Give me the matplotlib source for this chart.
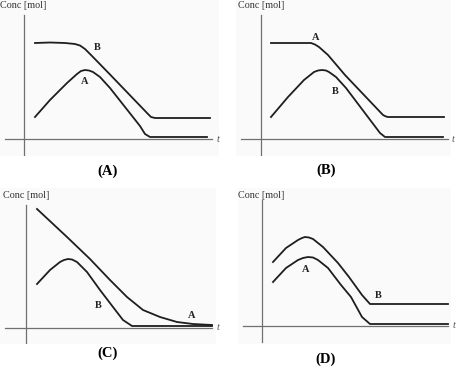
"""
Four sketch panels (A)-(D): concentration of species A and B versus time.
Values are in arbitrary units, read off the reference picture.
"""

import matplotlib
matplotlib.use("Agg")
import matplotlib.pyplot as plt

# ── data (t, conc) per panel ──
a_upper_t = [1.1, 2.6, 4.1, 5.1, 5.6, 6.1, 6.8, 8.6, 12.4, 12.7, 13.1, 18.6]
a_upper_c = [9.6, 9.65, 9.6, 9.5, 9.35, 9.0, 8.3, 6.45, 2.5, 2.2, 2.1, 2.1]
a_lower_t = [1.1, 2.6, 4.3, 5.3, 5.7, 6.1, 6.5, 6.9, 7.6, 8.6, 11.6, 12.1, 12.6, 18.3]
a_lower_c = [2.2, 3.9, 5.6, 6.5, 6.8, 6.9, 6.85, 6.7, 6.2, 5.1, 1.3, 0.5, 0.2, 0.2]

b_upper_t = [1.0, 3.7, 5.0, 5.4, 5.8, 6.7, 8.4, 12.2, 12.5, 12.7, 18.3]
b_upper_c = [9.6, 9.6, 9.6, 9.45, 9.2, 8.4, 6.4, 2.4, 2.25, 2.2, 2.2]
b_lower_t = [1.0, 2.7, 4.3, 5.3, 5.7, 6.1, 6.5, 6.8, 7.5, 8.5, 11.9, 12.4, 18.2]
b_lower_c = [2.2, 4.2, 5.9, 6.7, 6.85, 6.9, 6.85, 6.7, 6.2, 5.1, 0.6, 0.2, 0.2]

c_upper_t = [1.1, 4.1, 6.4, 8.4, 10.1, 11.7, 13.4, 15.1, 16.7, 18.6]
c_upper_c = [11.9, 9.1, 6.9, 4.8, 3.1, 1.8, 1.1, 0.6, 0.4, 0.3]
c_lower_t = [1.1, 2.4, 3.4, 3.8, 4.2, 4.6, 5.1, 6.1, 7.4, 8.7, 9.7, 10.6, 18.6]
c_lower_c = [4.4, 5.8, 6.6, 6.8, 6.9, 6.85, 6.6, 5.6, 3.8, 2.1, 0.8, 0.2, 0.2]

d_upper_t = [1.1, 2.4, 3.6, 4.0, 4.3, 4.7, 5.1, 6.1, 7.6, 8.7, 10.0, 10.8, 18.6]
d_upper_c = [6.4, 7.8, 8.6, 8.8, 8.9, 8.85, 8.7, 7.9, 6.3, 4.9, 3.1, 2.2, 2.2]
d_lower_t = [1.1, 2.4, 3.6, 4.1, 4.6, 5.1, 5.6, 6.6, 7.9, 8.9, 10.0, 10.8, 18.6]
d_lower_c = [4.4, 5.8, 6.6, 6.8, 6.9, 6.85, 6.6, 5.8, 4.1, 2.9, 0.9, 0.2, 0.2]

panel_titles = ["(A)", "(B)", "(C)", "(D)"]
curve_labels = [("B", "A"), ("A", "B"), ("A", "B"), ("B", "A")]   # (upper, lower)
label_pos = [((7.3, 9.1), (6.1, 5.8)),
             ((5.5, 10.1), (7.4, 4.8)),
             ((16.6, 1.2), (7.2, 2.2)),
             ((11.6, 3.0), (4.4, 5.7))]

# ── layout in pixels ──
W, H = 463, 377
PX = 10.0  # pixels per data unit
# (origin x, origin y, box x0, box y0, box x1, box y1, xaxis x0, xaxis x1, yaxis y0, yaxis y1)
layout = [
    (24, 139, 0, 0, 219, 156, 5, 212, 15, 155),
    (261, 139, 236, 0, 451, 156, 241, 448, 15, 155),
    (26, 328, 0, 188, 216, 344, 5, 212, 205, 343),
    (262, 326, 238, 188, 451, 344, 243, 448, 200, 342),
]
title_xy = [(108, 171), (326, 170), (108, 353), (326, 359)]
conc_xy = [(0, 5), (238, 5), (3, 195), (238, 195)]
t_xy = [(218, 139), (453, 139), (218, 328), (454, 326)]

SERIF = ["Liberation Serif", "DejaVu Serif"]
CURVE = "#1e1e1e"
AXIS = "#707070"

series = [
    (a_upper_t, a_upper_c, a_lower_t, a_lower_c),
    (b_upper_t, b_upper_c, b_lower_t, b_lower_c),
    (c_upper_t, c_upper_c, c_lower_t, c_lower_c),
    (d_upper_t, d_upper_c, d_lower_t, d_lower_c),
]

fig = plt.figure(figsize=(W / 100, H / 100), dpi=100)
fig.patch.set_facecolor("white")

for i, (ut, uc, lt, lc) in enumerate(series):
    ox, oy, bx0, by0, bx1, by1, xa0, xa1, ya0, ya1 = layout[i]
    ax = fig.add_axes([bx0 / W, 1 - by1 / H, (bx1 - bx0) / W, (by1 - by0) / H])
    ax.set_facecolor("#fafafa")
    ax.set_xlim((bx0 - ox) / PX, (bx1 - ox) / PX)
    ax.set_ylim((oy - by1) / PX, (oy - by0) / PX)
    for s in ax.spines.values():
        s.set_visible(False)
    ax.set_xticks([])
    ax.set_yticks([])

    # axis lines crossing at the origin
    ax.plot([(xa0 - ox) / PX, (xa1 - ox) / PX], [0, 0], color=AXIS, lw=0.9)
    ax.plot([0, 0], [(oy - ya1) / PX, (oy - ya0) / PX], color=AXIS, lw=0.9)

    ax.plot(ut, uc, color=CURVE, lw=1.3, solid_joinstyle="round")
    ax.plot(lt, lc, color=CURVE, lw=1.3, solid_joinstyle="round")

    for lab, (tx, ty) in zip(curve_labels[i], label_pos[i]):
        ax.text(tx, ty, lab, family=SERIF, fontsize=7.5, fontweight="bold",
                color="#222222", ha="center", va="center")

    fig.text(title_xy[i][0] / W, 1 - title_xy[i][1] / H, panel_titles[i],
             family=SERIF, fontsize=10.5, fontweight="bold", ha="center", va="center")
    fig.text(conc_xy[i][0] / W, 1 - conc_xy[i][1] / H, "Conc [mol]",
             family=SERIF, fontsize=7.3, color="#333333", ha="left", va="center")
    fig.text(t_xy[i][0] / W, 1 - t_xy[i][1] / H, "t", family=SERIF, style="italic",
             fontsize=7.5, color="#555555", ha="center", va="center")

fig.savefig("out.png", dpi=100)
